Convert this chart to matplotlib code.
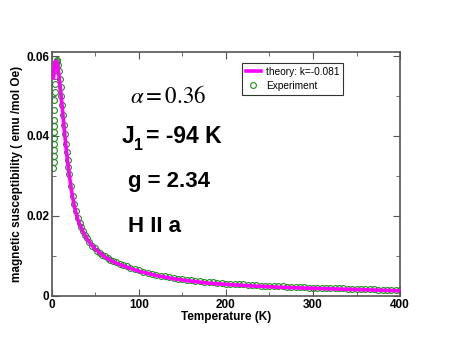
import numpy as np
import matplotlib.pyplot as plt
from matplotlib.ticker import MultipleLocator

plt.rcParams['font.family'] = ['Liberation Sans', 'DejaVu Sans']
plt.rcParams['mathtext.fontset'] = 'stix'

# ---- data ----
T_exp = [1.8, 1.9, 2.0, 2.1, 2.2, 2.3, 2.4, 2.5, 2.6, 2.8, 3.0, 3.2, 3.5, 3.8,
         4.2, 4.6, 5.0, 5.5, 6.0, 7, 8, 9, 10, 11, 12, 13, 14, 15, 16, 17, 18,
         19, 20, 22, 24, 26, 28, 30, 32, 34, 36, 38, 40, 43, 46, 49, 52, 55, 58,
         61, 64, 67, 70, 74, 78, 82, 86, 90, 95,
         100, 105, 110, 115, 120, 125, 130, 135, 140, 145, 150, 155, 160, 165,
         170, 175, 180, 185, 190, 195, 200, 205, 210, 215, 220, 225, 230, 235,
         240, 245, 250, 255, 260, 265, 270, 275, 280, 285, 290, 295, 300, 305,
         310, 315, 320, 325, 330, 335, 340, 345, 350, 355, 360, 365, 370, 375,
         380, 385, 390, 395, 400]
chi_exp = [0.0320, 0.0335, 0.0350, 0.0365, 0.0380, 0.0395, 0.0410, 0.0425,
           0.0440, 0.0465, 0.0490, 0.0510, 0.0530, 0.0550, 0.0565, 0.0578,
           0.0585, 0.0590, 0.0588, 0.0578, 0.0562, 0.0543, 0.0522, 0.0500,
           0.0477, 0.0453, 0.0428, 0.0404, 0.0381, 0.0360, 0.0340, 0.0322,
           0.0305, 0.0276, 0.0251, 0.0230, 0.0212, 0.0196, 0.0183, 0.0172,
           0.0162, 0.0153, 0.0145, 0.0135, 0.0126, 0.0119, 0.0113, 0.0108,
           0.0103, 0.0099, 0.0095, 0.0091, 0.0088, 0.0084, 0.0080, 0.0077,
           0.0074, 0.0071, 0.0067,
           0.0064, 0.0061, 0.0058, 0.0055, 0.0053, 0.0051, 0.0049, 0.0047,
           0.0045, 0.0043, 0.0042, 0.0040, 0.0039, 0.0038, 0.0037, 0.0036,
           0.0035, 0.0034, 0.0033, 0.0032, 0.0031, 0.0031, 0.0030, 0.0029,
           0.0029, 0.0028, 0.0027, 0.0027, 0.0026, 0.0026, 0.0025, 0.0025,
           0.0024, 0.0024, 0.0023, 0.0023, 0.0023, 0.0022, 0.0022, 0.0021,
           0.0021, 0.0021, 0.0020, 0.0020, 0.0020, 0.0019, 0.0019, 0.0019,
           0.0018, 0.0018, 0.0018, 0.0018, 0.0017, 0.0017, 0.0017, 0.0016,
           0.0016, 0.0016, 0.0016, 0.0015, 0.0015]

T_fit = [2, 3, 4, 5, 6, 7, 8, 10, 12, 14, 16, 18, 20, 23, 26, 30, 35, 40, 45,
         50, 60, 70, 80, 90, 100, 120, 140, 160, 180, 200, 230, 260, 300, 350,
         400]
chi_fit = [0.0545, 0.0575, 0.0586, 0.0588, 0.0583, 0.0571, 0.0555, 0.0515,
           0.0470, 0.0422, 0.0378, 0.0338, 0.0302, 0.0258, 0.0222, 0.0190,
           0.0164, 0.0144, 0.0129, 0.0117, 0.0099, 0.0086, 0.0077, 0.0069,
           0.0062, 0.0051, 0.0043, 0.0037, 0.0032, 0.0029, 0.0025, 0.0022,
           0.0019, 0.0016, 0.0013]

fig = plt.figure(figsize=(4.51, 3.49), dpi=100)
ax = fig.add_axes([0.115, 0.152, 0.772, 0.699])

ax.plot(T_fit, chi_fit, color='#ff00ff', lw=2.6, label='theory: k=-0.081', zorder=3)
ax.plot(T_exp, chi_exp, 'o', mfc='none', mec='#1a8f1a', ms=4.2, mew=0.8,
        label='Experiment', zorder=2)

ax.set_xlim(0, 400)
ax.set_ylim(0, 0.061)
ax.xaxis.set_major_locator(MultipleLocator(100))
ax.xaxis.set_minor_locator(MultipleLocator(50))
ax.yaxis.set_major_locator(MultipleLocator(0.02))
ax.yaxis.set_minor_locator(MultipleLocator(0.01))
ax.set_yticks([0, 0.02, 0.04, 0.06])
ax.set_yticklabels(['0', '0.02', '0.04', '0.06'])
ax.tick_params(which='both', direction='in', top=True, right=True,
               color='#555555', labelsize=8.5, pad=2)
ax.tick_params(which='major', length=5)
ax.tick_params(which='minor', length=3)
for lbl in ax.get_xticklabels() + ax.get_yticklabels():
    lbl.set_fontweight('bold')
for s in ax.spines.values():
    s.set_color('#555555')
    s.set_linewidth(1.2)

ax.set_xlabel('Temperature (K)', fontsize=8.5, fontweight='bold', labelpad=0)
ax.set_ylabel('magnetic susceptibility ( emu /mol Oe)', fontsize=8.5,
              fontweight='bold', labelpad=2)

leg = ax.legend(loc='upper left', bbox_to_anchor=(0.547, 0.955), fontsize=7.3,
                frameon=True, fancybox=False, edgecolor='black',
                handlelength=1.4, handletextpad=0.5, borderpad=0.4,
                labelspacing=0.35, borderaxespad=0)
leg.get_frame().set_linewidth(0.8)

fig.text(130 / 451, 1 - 103 / 349, r'$\alpha = 0.36$', fontsize=16.5)
fig.text(122 / 451, 1 - 143 / 349, 'J', fontsize=16.5, fontweight='bold')
fig.text(134 / 451, 1 - 150 / 349, '1', fontsize=11.5, fontweight='bold')
fig.text(146 / 451, 1 - 143 / 349, '= -94 K', fontsize=16.5, fontweight='bold')
fig.text(128 / 451, 1 - 187 / 349, 'g = 2.34', fontsize=16, fontweight='bold')
fig.text(128 / 451, 1 - 232 / 349, 'H II a', fontsize=16, fontweight='bold')

plt.savefig('out.png', dpi=100)
